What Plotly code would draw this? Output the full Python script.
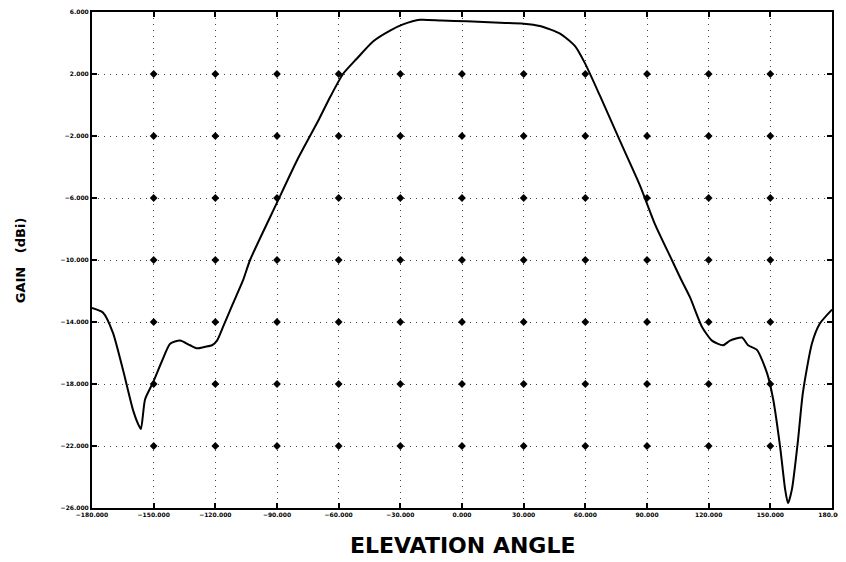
import plotly.graph_objects as go

# Elevation angle (deg) and gain (dBi)
angle = [-180, -174.6, -169.8, -164.9, -160, -157.5, -156.2, -154.2, -150.3, -145.9,
         -142, -137.2, -132.3, -128.9, -125, -121.6, -119.2, -116.2, -111.4, -106.5,
         -103.1, -90, -80, -69.5, -64.2, -57.9, -51.1, -43.3, -35, -28.7, -20.4, -10,
         2.4, 18.5, 30, 37.9, 47.7, 55, 59.8, 67.1, 76.8, 86.6, 93.9, 102.1, 106,
         110.9, 116.7, 121.6, 127, 130.4, 136.2, 139.2, 143.5, 148.4, 151.4, 154.8,
         157.2, 158.6, 160.5, 163.4, 165.8, 170.2, 174.1, 180]
gain = [-13.1, -13.4, -14.7, -17.1, -19.7, -20.6, -20.9, -19.0, -17.9, -16.5,
        -15.4, -15.2, -15.5, -15.7, -15.6, -15.5, -15.2, -14.3, -12.8, -11.3,
        -10.0, -6.3, -3.5, -0.9, 0.5, 2.0, 3.0, 4.1, 4.8, 5.2, 5.5, 5.45,
        5.4, 5.3, 5.25, 5.1, 4.6, 3.8, 2.7, 0.6, -2.3, -5.2, -7.7, -10.0, -11.1,
        -12.4, -14.3, -15.2, -15.5, -15.2, -15.0, -15.5, -15.8, -17.3, -19.0, -22.1,
        -24.8, -25.7, -24.8, -21.7, -18.6, -15.4, -14.1, -13.2]

x_ticks = [-180, -150, -120, -90, -60, -30, 0, 30, 60, 90, 120, 150, 180]
y_ticks = [6, 2, -2, -6, -10, -14, -18, -22, -26]
x_title = "ELEVATION ANGLE"
y_title = "GAIN\u00a0\u00a0\u00a0(dBi)"

# grid intersection markers (interior ticks only)
gx, gy = [], []
for xv in x_ticks[1:-1]:
    for yv in y_ticks[1:-1]:
        gx.append(xv)
        gy.append(yv)

fig = go.Figure()
fig.add_trace(go.Scatter(x=gx, y=gy, mode="markers",
                         marker=dict(symbol="diamond", size=6, color="black"),
                         hoverinfo="skip", showlegend=False))
fig.add_trace(go.Scatter(x=angle, y=gain, mode="lines",
                         line=dict(color="black", width=2, shape="spline", smoothing=0.6),
                         showlegend=False))

tick_font = dict(family="DejaVu Sans", size=6, color="black", weight="bold")

# the page adds an 8px body margin, so margins are reduced by 8 on left/top
fig.update_layout(
    width=846, height=562,
    margin=dict(l=84, r=22, t=4, b=62),
    paper_bgcolor="white", plot_bgcolor="white",
    showlegend=False,
    xaxis=dict(range=[-180, 180], tickvals=x_ticks, tickformat=".3f",
               ticks="inside", ticklen=5, tickwidth=2, tickcolor="black",
               showline=True, linecolor="black", linewidth=2, mirror="ticks",
               showgrid=True, gridcolor="#444", gridwidth=1, griddash="1px,5px",
               zeroline=False, tickfont=tick_font, automargin=False),
    yaxis=dict(range=[-26, 6], tickvals=y_ticks, tickformat=".3f",
               ticks="inside", ticklen=5, tickwidth=2, tickcolor="black",
               showline=True, linecolor="black", linewidth=2, mirror="ticks",
               showgrid=True, gridcolor="#444", gridwidth=1, griddash="1px,5px",
               zeroline=False, tickfont=tick_font, automargin=False),
    annotations=[
        dict(text=x_title, xref="paper", yref="paper", x=0.5, y=-0.075,
             xanchor="center", yanchor="middle", showarrow=False,
             font=dict(family="DejaVu Sans", size=22, color="black", weight="bold")),
        dict(text=y_title, xref="paper", yref="paper", x=-0.097, y=0.5,
             xanchor="center", yanchor="middle", showarrow=False, textangle=-90,
             font=dict(family="DejaVu Sans", size=13, color="black", weight="bold")),
    ],
)

fig.write_html("out.html")
